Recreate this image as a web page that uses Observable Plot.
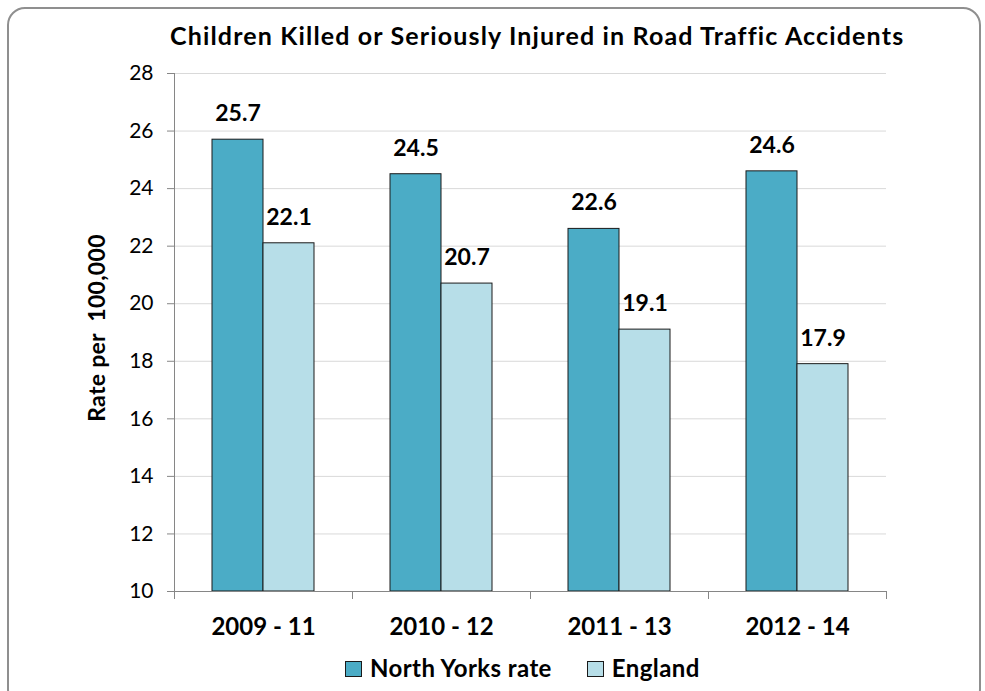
<!DOCTYPE html>
<html><head><meta charset="utf-8">
<script src="https://cdn.jsdelivr.net/npm/d3@7"></script>
<script src="https://cdn.jsdelivr.net/npm/@observablehq/plot@0.6"></script>
<style>
body{margin:0;background:#fff;font-family:Lato,"Open Sans",sans-serif;}
#wrap{position:relative;width:985px;height:691px;overflow:hidden;background:#fff}
#border{position:absolute;left:7px;top:7px;width:974px;height:700px;border:2px solid #8f8f8f;border-radius:18px;box-sizing:border-box}
#title{position:absolute;top:20px;left:170px;white-space:nowrap;font-weight:bold;font-size:25px;line-height:30px;letter-spacing:1.15px;color:#000}
#ylab{position:absolute;left:96px;top:328px;transform:translate(-50%,-50%) rotate(-90deg);font-weight:bold;font-size:23px;line-height:26px;white-space:pre;letter-spacing:0.3px;color:#000}
#chart{position:absolute;left:0;top:50px}
#legend{position:absolute;top:653px;left:345px;display:flex;align-items:center;font-weight:bold;font-size:24px;line-height:29px;letter-spacing:0.4px;color:#000}
.sw{width:15px;height:14px;border:1px solid #1a1a1a;margin-right:8px;margin-top:3px}
.item{display:flex;align-items:center;margin-right:35px}
</style></head>
<body>
<div id="wrap">
<div id="border"></div>
<div id="title"></div>
<div id="ylab"></div>
<div id="chart"></div>
<div id="legend"></div>
</div>
<script>
const titleText = "Children Killed or Seriously Injured in Road Traffic Accidents";
const yLabel = "Rate per  100,000";
const categories = ["2009 - 11", "2010 - 12", "2011 - 13", "2012 - 14"];
const seriesNames = ["North Yorks rate", "England"];
const northYorks = [25.7, 24.5, 22.6, 24.6];
const england = [22.1, 20.7, 19.1, 17.9];
const yTicks = [10, 12, 14, 16, 18, 20, 22, 24, 26, 28];
const colors = ["#4BACC6", "#B7DEE8"];

const data = categories.flatMap((c, i) => [
  {category: c, series: seriesNames[0], value: northYorks[i]},
  {category: c, series: seriesNames[1], value: england[i]}
]);

document.getElementById("title").textContent = titleText;
document.getElementById("ylab").textContent = yLabel;

const chart = Plot.plot({
  width: 985,
  height: 610,
  marginLeft: 173,
  marginRight: 98,
  marginTop: 23,
  marginBottom: 69,
  style: {fontFamily: "Lato, 'Open Sans', sans-serif", background: "transparent", color: "#000"},
  fx: {domain: categories, padding: 0, label: null},
  x: {domain: seriesNames, paddingInner: 0, paddingOuter: 0.733, axis: null},
  y: {domain: [10, 28], label: null},
  color: {domain: seriesNames, range: colors},
  marks: [
    Plot.gridY(yTicks, {stroke: "#d9d9d9", strokeOpacity: 1}),
    Plot.barY(data, {fx: "category", x: "series", y1: 10, y2: "value", fill: "series", stroke: "#1a1a1a", strokeWidth: 1}),
    Plot.text(data, {fx: "category", x: "series", y: "value", text: d => d.value.toFixed(1), dy: -26, fontWeight: "bold", fontSize: 23, fill: "#000"}),
    Plot.frame({anchor: "left", facetAnchor: "left", stroke: "#868686"}),
    Plot.frame({anchor: "bottom", stroke: "#868686"}),
    Plot.frame({anchor: "left", insetTop: 518, insetBottom: -7, stroke: "#868686"}),
    Plot.frame({anchor: "right", insetTop: 518, insetBottom: -7, stroke: "#868686"}),
    Plot.axisY(yTicks, {tickSize: 7, tickPadding: 14, fontSize: 21, stroke: "#868686", fill: "#000", label: null}),
    Plot.axisFx({anchor: "bottom", tickSize: 0, tickPadding: 26, fontSize: 24, fontWeight: "bold", fill: "#000", label: null})
  ]
});
document.getElementById("chart").appendChild(chart);

const legend = document.getElementById("legend");
seriesNames.forEach((s, i) => {
  const item = document.createElement("div");
  item.className = "item";
  const sw = document.createElement("div");
  sw.className = "sw";
  sw.style.background = colors[i];
  const lab = document.createElement("span");
  lab.textContent = s;
  item.appendChild(sw);
  item.appendChild(lab);
  legend.appendChild(item);
});
</script>
</body></html>
